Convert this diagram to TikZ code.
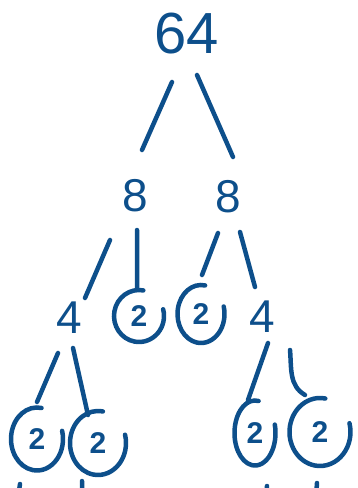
\documentclass[tikz,border=0pt]{standalone}
\usepackage{fontspec}
\setmainfont{Liberation Sans}
\definecolor{ink}{RGB}{13,79,139}

\begin{document}
\begin{tikzpicture}[x=1pt,y=1pt,ink,line width=4.5pt,line cap=round,
	num node/.style={inner sep=0pt,text=ink,font=\fontsize{46}{46}\selectfont},
	leaf node/.style={inner sep=0pt,text=ink,font=\bfseries\fontsize{30}{30}\selectfont}]

	\useasboundingbox (0,0) rectangle (358,-488);
	\clip (0,0) rectangle (358,-488);

	\node[num node,font=\fontsize{58}{58}\selectfont] (0) at (187,-34) {64};
	\node[num node] (1) at (135,-196) {8};
	\node[num node] (2) at (228,-197) {8};
	\node[num node] (3) at (69,-318) {4};
	\node[leaf node] (4) at (139,-316) {2};
	\node[leaf node] (5) at (201,-314) {2};
	\node[num node] (6) at (262,-317) {4};
	\node[leaf node] (7) at (37,-439) {2};
	\node[leaf node] (8) at (98,-443) {2};
	\node[leaf node] (9) at (255,-433) {2};
	\node[leaf node] (10) at (320,-432) {2};

	% open rings round the prime leaves
	\foreach \n/\rx/\ry in {4/25/26,5/23.5/29,7/26/31.5,8/28/32,9/20.5/32.5,10/30.5/34}
		\draw ([shift={(80:\rx pt and \ry pt)}]\n.center)
			arc[start angle=80,end angle=375,x radius=\rx pt,y radius=\ry pt];

	\draw ([shift={(-15,-48)}]0.center) -- ([shift={(7,46)}]1.center)
		([shift={(10,-41)}]0.center) -- ([shift={(5,40)}]2.center)
		([shift={(-25,-44)}]1.center) -- ([shift={(16,20)}]3.center)
		([shift={(2,-34)}]1.center) -- ([shift={(-2,27)}]4.center)
		([shift={(-10,-36)}]2.center) -- ([shift={(1,39)}]5.center)
		([shift={(12,-35)}]2.center) -- ([shift={(-7,30)}]6.center)
		([shift={(-11,-35)}]3.center) -- ([shift={(0,37)}]7.center)
		([shift={(4,-30)}]3.center) -- ([shift={(-10,28)}]8.center)
		([shift={(6,-26)}]6.center) -- ([shift={(-7,33)}]9.center)
		([shift={(28,-33)}]6.center) to[out=-85,in=150] ([shift={(-15,37)}]10.center);

	% strokes running on below the bottom row
	\draw ([shift={(-17,-45)}]7.center) -- ++(-2,-14)
		([shift={(-16,-38)}]8.center) -- ++(0,-14)
		([shift={(12,-53)}]9.center) -- ++(-1,-14)
		([shift={(-3,-51)}]10.center) -- ++(-1,-14);
\end{tikzpicture}
\end{document}
